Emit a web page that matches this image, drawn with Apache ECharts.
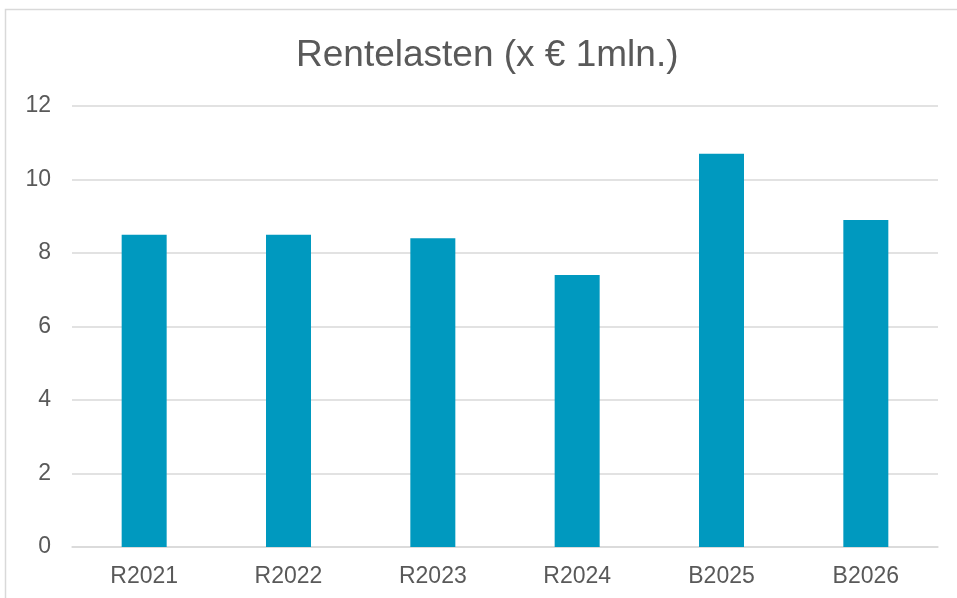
<!DOCTYPE html>
<html lang="nl">
<head>
    <meta charset="UTF-8">
    <title>Rentelasten</title>
    <script src="https://cdn.jsdelivr.net/npm/echarts@6/dist/echarts.min.js"></script>
    <style>
        html, body { margin: 0; padding: 0; background: #fff; }
        #box { width: 957px; height: 598px; }
    </style>
</head>
<body>
<div id="box"></div>
<script>
    var categories = ['R2021', 'R2022', 'R2023', 'R2024', 'B2025', 'B2026'];
    var rentelasten = [8.5, 8.5, 8.4, 7.4, 10.7, 8.9];
    var yTicks = [0, 2, 4, 6, 8, 10, 12];

    var myChart = echarts.init(document.getElementById('box'));
    var font = '"Liberation Sans", Arial, sans-serif';

    var option = {
        animation: false,
        title: {
            text: 'Rentelasten (x € 1mln.)',
            // the chart frame runs past the right edge, so the title sits a bit right of centre
            left: 291,
            top: 32,
            textStyle: { fontFamily: font, fontSize: 37, fontWeight: 'normal', color: '#595959' }
        },
        graphic: [{
            type: 'rect',
            shape: { x: 5.5, y: 9.5, width: 1000, height: 700 },
            style: { fill: 'none', stroke: '#d9d9d9', lineWidth: 1.5 },
            silent: true
        }],
        grid: { left: 72, right: 19, top: 106, bottom: 51 },
        xAxis: {
            type: 'category',
            data: categories,
            axisTick: { show: false },
            axisLine: { lineStyle: { color: '#d9d9d9', width: 1.5 } },
            axisLabel: { fontFamily: font, fontSize: 23, color: '#595959', margin: 18 }
        },
        yAxis: {
            type: 'value',
            min: yTicks[0],
            max: yTicks[yTicks.length - 1],
            interval: 2,
            axisLine: { show: false },
            axisTick: { show: false },
            splitLine: { lineStyle: { color: '#d9d9d9', width: 1.5 } },
            axisLabel: { fontFamily: font, fontSize: 23, color: '#595959', margin: 21 }
        },
        series: [{
            name: 'Rentelasten',
            type: 'bar',
            data: rentelasten,
            barWidth: 45,
            itemStyle: { color: '#0099bf' }
        }]
    };

    option && myChart.setOption(option);
</script>
</body>
</html>
